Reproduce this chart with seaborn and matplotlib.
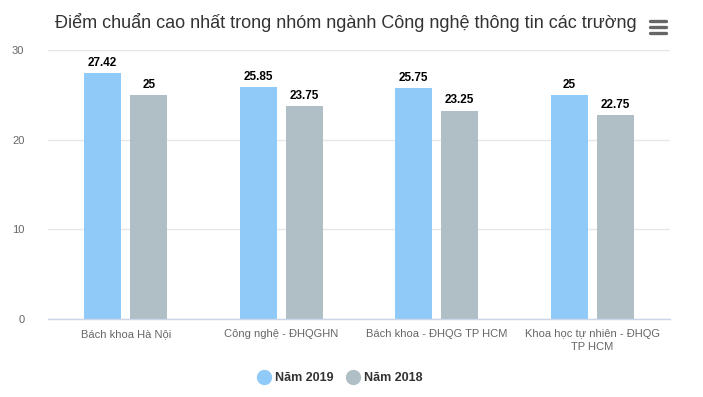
import matplotlib
matplotlib.use("Agg")
import matplotlib.pyplot as plt
from matplotlib.lines import Line2D
import seaborn as sns
import pandas as pd

categories = ["Bách khoa Hà Nội", "Công nghệ - ĐHQGHN", "Bách khoa - ĐHQG TP HCM",
              "Khoa học tự nhiên - ĐHQG\nTP HCM"]
series_names = ["Năm 2019", "Năm 2018"]
values_2019 = [27.42, 25.85, 25.75, 25]
values_2018 = [25, 23.75, 23.25, 22.75]
yticks = [0, 10, 20, 30]
title = "Điểm chuẩn cao nhất trong nhóm ngành Công nghệ thông tin các trường"
colors = ["#90CAF9", "#B0BEC5"]

df = pd.DataFrame({
    "cat": categories * 2,
    "series": [series_names[0]] * 4 + [series_names[1]] * 4,
    "val": values_2019 + values_2018,
})

sns.set_theme(style="white")
plt.rcParams["font.family"] = ["Liberation Sans", "DejaVu Sans"]

fig = plt.figure(figsize=(7.03, 3.97), dpi=100)
ax = fig.add_axes([48 / 703, 1 - 319 / 397, 622 / 703, 269 / 397])

sns.barplot(data=df, x="cat", y="val", hue="series", order=categories,
            hue_order=series_names, palette=colors, width=0.592, gap=0.196,
            saturation=1, ax=ax, legend=False, errorbar=None, linewidth=0)

ax.set_xlim(-0.5, 3.5)
ax.set_ylim(0, 30)
ax.set_yticks(yticks)
ax.set_yticklabels([str(t) for t in yticks], color="#666666", fontsize=8)
ax.set_xlabel("")
ax.set_ylabel("")
ax.yaxis.grid(True, color="#e6e6e6", linewidth=1)
ax.set_axisbelow(True)
for s in ["top", "right", "left"]:
    ax.spines[s].set_visible(False)
ax.spines["bottom"].set_color("#ccd6eb")
ax.spines["bottom"].set_linewidth(1)
ax.tick_params(axis="y", length=0, pad=17)

# category boundary ticks
ax.set_xticks([0, 1, 2, 3])
ax.set_xticklabels(categories, color="#666666", fontsize=8, linespacing=1.45)
ax.tick_params(axis="x", length=0, pad=7)
ax.set_xticks([-0.5, 0.5, 1.5, 2.5, 3.5], minor=True)
ax.tick_params(axis="x", which="minor", length=10, color="#ccd6eb", width=1)

for cont in ax.containers:
    ax.bar_label(cont, labels=[f"{v:g}" for v in cont.datavalues],
                 fontsize=8.5, fontweight="bold", color="black", padding=3)

fig.text(346 / 703, 1 - 22 / 397, title, ha="center", va="center",
         fontsize=13, color="#333333")

# menu icon
for yy in [21, 27, 33]:
    fig.add_artist(Line2D([650 / 703, 666 / 703], [1 - yy / 397] * 2,
                          color="#666666", linewidth=2.4,
                          transform=fig.transFigure))

handles = [Line2D([0], [0], marker="o", linestyle="", markersize=10,
                  markerfacecolor=c, markeredgecolor=c) for c in colors]
leg = fig.legend(handles, series_names, loc="center", ncol=2,
                 bbox_to_anchor=(340 / 703, 1 - 378 / 397), frameon=False,
                 prop={"weight": "bold", "size": 9}, handletextpad=0.4,
                 columnspacing=1.0, handlelength=1.0)
for t in leg.get_texts():
    t.set_color("#333333")

fig.savefig("out.png", dpi=100)
